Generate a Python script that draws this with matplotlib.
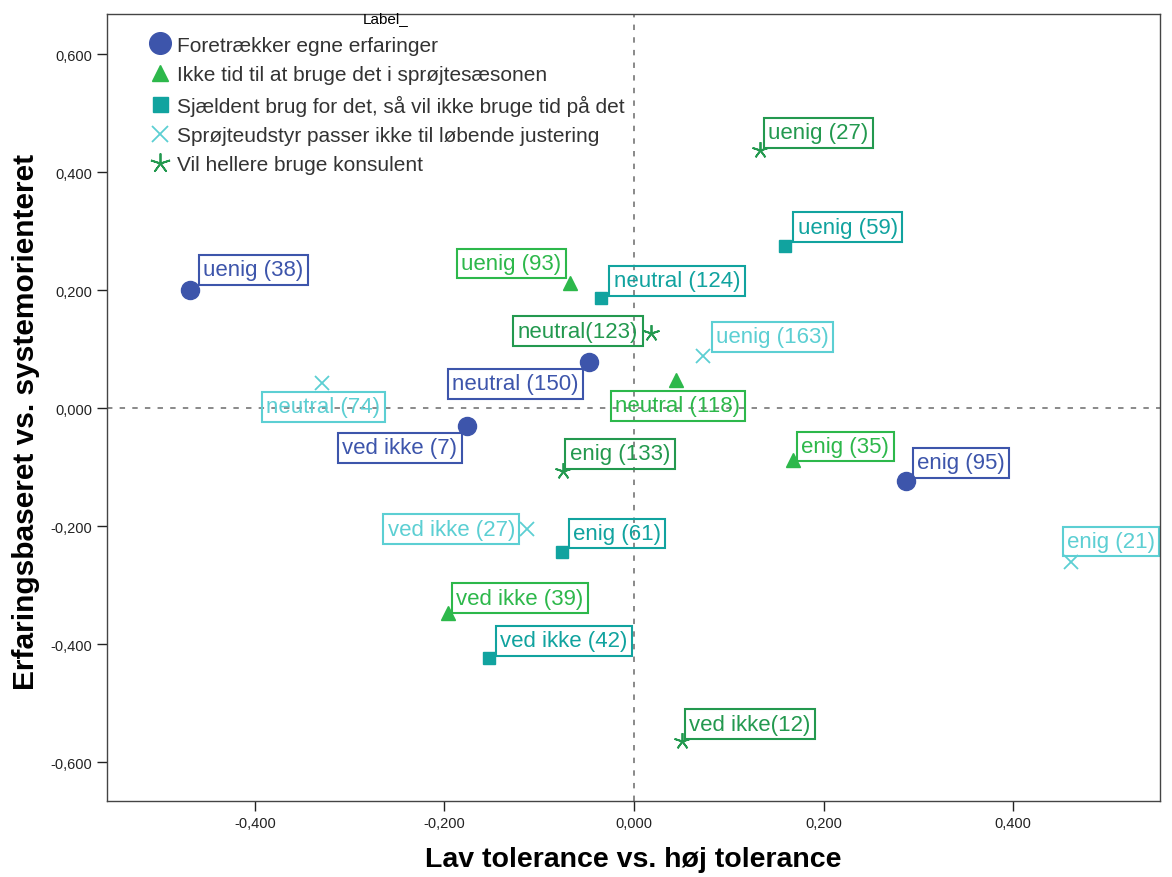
import matplotlib
matplotlib.use("Agg")
import matplotlib.pyplot as plt
from matplotlib.ticker import FuncFormatter

plt.rcParams['font.family'] = ['Liberation Sans', 'DejaVu Sans']

# data
series = ["Foretrækker egne erfaringer",
          "Ikke tid til at bruge det i sprøjtesæsonen",
          "Sjældent brug for det, så vil ikke bruge tid på det",
          "Sprøjteudstyr passer ikke til løbende justering",
          "Vil hellere bruge konsulent"]

x_egne = [-0.468, -0.048, -0.176, 0.287]
y_egne = [0.200, 0.078, -0.031, -0.124]
lab_egne = ["uenig (38)", "neutral (150)", "ved ikke (7)", "enig (95)"]

x_tid = [-0.068, 0.044, 0.168, -0.196]
y_tid = [0.212, 0.047, -0.088, -0.347]
lab_tid = ["uenig (93)", "neutral (118)", "enig (35)", "ved ikke (39)"]

x_sjaeld = [0.159, -0.035, -0.076, -0.153]
y_sjaeld = [0.275, 0.186, -0.244, -0.424]
lab_sjaeld = ["uenig (59)", "neutral (124)", "enig (61)", "ved ikke (42)"]

x_udstyr = [0.073, -0.329, -0.113, 0.461]
y_udstyr = [0.088, 0.042, -0.205, -0.261]
lab_udstyr = ["uenig (163)", "neutral (74)", "ved ikke (27)", "enig (21)"]

x_konsul = [0.133, 0.018, -0.075, 0.051]
y_konsul = [0.437, 0.127, -0.107, -0.564]
lab_konsul = ["uenig (27)", "neutral(123)", "enig (133)", "ved ikke(12)"]

xs = [x_egne, x_tid, x_sjaeld, x_udstyr, x_konsul]
ys = [y_egne, y_tid, y_sjaeld, y_udstyr, y_konsul]
labs = [lab_egne, lab_tid, lab_sjaeld, lab_udstyr, lab_konsul]

# styles
colors = ["#3d55ab", "#2db84b", "#11a39f", "#5ccfd3", "#23994f"]
markers = ["o", "^", "s", "x", (5, 2, 0)]
msizes = [13, 10, 9, 10, 12]

# label placement: (dx px, dy px, ha, va) of the box edge
place = [
    [(13, 10, 'left', 'bottom'), (-10, -11, 'right', 'top'), (-10, -11, 'right', 'top'), (11, 8, 'left', 'bottom')],
    [(-8, 9, 'right', 'bottom'), (2, -15, 'center', 'top'), (8, 3, 'left', 'bottom'), (8, 4, 'left', 'bottom')],
    [(13, 8, 'left', 'bottom'), (13, 7, 'left', 'bottom'), (11, 8, 'left', 'bottom'), (11, 7, 'left', 'bottom')],
    [(13, 9, 'left', 'bottom'), (1, -13, 'center', 'top'), (-12, 0, 'right', 'center'), (-4, 10, 'left', 'bottom')],
    [(8, 7, 'left', 'bottom'), (-13, 2, 'right', 'center'), (7, 7, 'left', 'bottom'), (7, 6, 'left', 'bottom')],
]

fig = plt.figure(figsize=(11.72, 8.78), dpi=100)
ax = fig.add_axes([0.0913, 0.0866, 0.8985, 0.8963])

ax.axhline(0, color="#808080", lw=1.3, ls=(0, (3, 4)), zorder=1)
ax.axvline(0, color="#808080", lw=1.3, ls=(0, (3, 4)), zorder=1)

for i in range(len(series)):
    mew = 1.3 if i >= 3 else 1
    ax.plot(xs[i], ys[i], ls="none", marker=markers[i], ms=msizes[i],
            color=colors[i], mec=colors[i], mew=mew, label=series[i], zorder=3)
    for j in range(len(labs[i])):
        dx, dy, ha, va = place[i][j]
        ax.annotate(labs[i][j], (xs[i][j], ys[i][j]), xytext=(dx, dy),
                    textcoords="offset pixels", ha=ha, va=va, fontsize=16,
                    color=colors[i], zorder=2,
                    bbox=dict(boxstyle="square,pad=0.2", fc="none", ec=colors[i], lw=1.5))

ax.set_xlim(-0.556, 0.555)
ax.set_ylim(-0.666, 0.668)
ax.set_xticks([-0.4, -0.2, 0, 0.2, 0.4])
ax.set_yticks([-0.6, -0.4, -0.2, 0, 0.2, 0.4, 0.6])
fmt = FuncFormatter(lambda v, p: ("%.3f" % v).replace(".", ",").replace("-0,000", "0,000"))
ax.xaxis.set_major_formatter(fmt)
ax.yaxis.set_major_formatter(fmt)
ax.tick_params(length=7, width=1, labelsize=10.5, colors="#222222")
for s in ax.spines.values():
    s.set_color("#444444")
    s.set_linewidth(1)

ax.set_xlabel("Lav tolerance vs. høj tolerance", fontsize=20.5, fontweight="bold", labelpad=12)
ax.set_ylabel("Erfaringsbaseret vs. systemorienteret", fontsize=21.5, fontweight="bold")
ax.yaxis.set_label_coords(-0.064, 0.483)

leg = ax.legend(title="Label_", loc="upper left", bbox_to_anchor=(0.029, 1.014), frameon=False,
                fontsize=15, title_fontsize=11, handletextpad=0.1, labelspacing=0.5,
                handlelength=1.4, borderaxespad=0, markerscale=1.2, labelcolor="#333333")
leg.set_zorder(5)

fig.savefig("out.png", dpi=100)
